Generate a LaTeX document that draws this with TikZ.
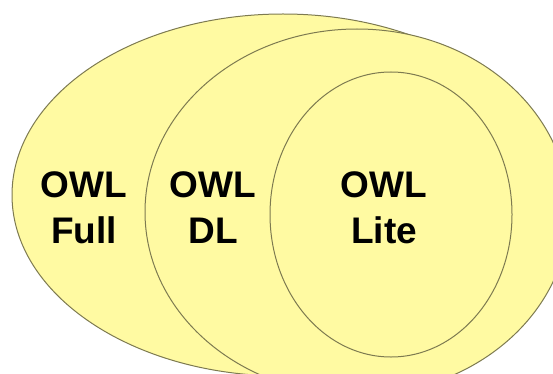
\documentclass[tikz,border=0pt]{standalone}
\usepackage{fontspec}
\setmainfont{Liberation Sans}
\usepackage{tikz}
\usetikzlibrary{shapes.geometric}
\definecolor{owlfill}{RGB}{255,250,162}
\definecolor{owledge}{RGB}{125,122,80}

\begin{document}
\begin{tikzpicture}[x=1pt, y=-1pt,
    setshape/.style={ellipse, draw=owledge, fill=owlfill, line width=1pt, inner sep=0pt},
    setlabel/.style={align=center, inner sep=0pt, font=\bfseries\fontsize{37}{46}\selectfont}]
    \useasboundingbox (0,0) rectangle (553,374);

    \node at (283,195) [setshape, minimum width=542pt, minimum height=362pt] (Full) {};
    \node at (357,212) [setshape, minimum width=424pt, minimum height=366pt] (DL) {};
    \node at (391,214.5) [setshape, minimum width=242pt, minimum height=285pt] (Lite) {};

    \node at (84,208) [setlabel] (FullLabel) {OWL\\Full};
    \node at (213,208) [setlabel] (DLLabel) {OWL\\DL};
    \node at (384,208) [setlabel] (LiteLabel) {OWL\\Lite};
\end{tikzpicture}
\end{document}
